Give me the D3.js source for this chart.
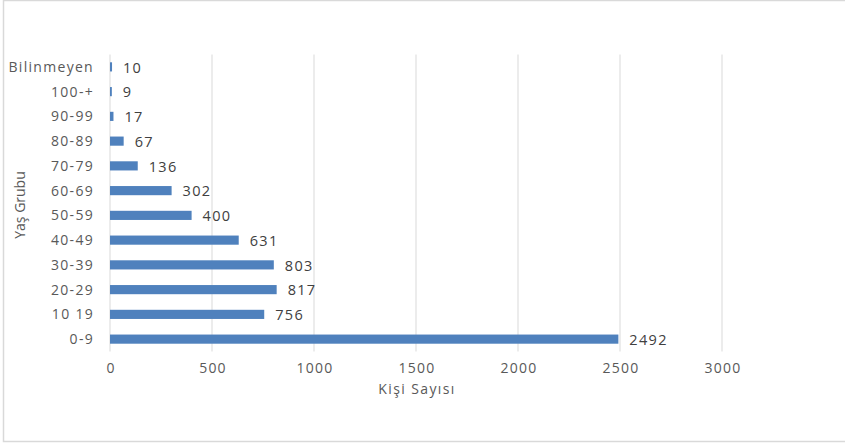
<!DOCTYPE html>
<html>
<head>
<meta charset="utf-8">
<script src="https://cdn.jsdelivr.net/npm/d3@7"></script>
<style>
  body { margin: 0; background: #fff; }
  svg text { font-family: "Open Sans", "Noto Sans", sans-serif; fill: #595959; }
</style>
</head>
<body>
<svg width="845" height="444"></svg>
<script>
var categories = ["Bilinmeyen", "100-+", "90-99", "80-89", "70-79", "60-69", "50-59", "40-49", "30-39", "20-29", "10 19", "0-9"];
var values = [10, 9, 17, 67, 136, 302, 400, 631, 803, 817, 756, 2492];
var ticks = [0, 500, 1000, 1500, 2000, 2500, 3000];

var svg = d3.select("svg");

// chart frame
svg.append("path")
    .attr("d", "M 845 0.5 H 3.5 V 441.5 H 845")
    .attr("fill", "none")
    .attr("stroke", "#d9d9d9")
    .attr("stroke-width", 1.5);

var x = d3.scaleLinear().domain([0, 3000]).range([110, 722]);
var y = d3.scaleBand().domain(categories).range([54.5, 351.5]).paddingInner(0.63).paddingOuter(0.315);

// gridlines
svg.append("g").selectAll("line")
    .data(ticks)
    .enter().append("line")
    .attr("x1", function (d) { return x(d); })
    .attr("x2", function (d) { return x(d); })
    .attr("y1", 54.5)
    .attr("y2", 351.5)
    .attr("stroke", "#d9d9d9")
    .attr("stroke-width", 1);

// x tick labels
svg.append("g").selectAll("text")
    .data(ticks)
    .enter().append("text")
    .attr("x", function (d) { return x(d) + 1; })
    .attr("y", 373)
    .attr("text-anchor", "middle")
    .style("font-size", "14px")
    .style("letter-spacing", "1.2px")
    .text(function (d) { return d; });

// category labels
svg.append("g").selectAll("text")
    .data(categories)
    .enter().append("text")
    .attr("x", 94)
    .attr("y", function (d) { return y(d) + y.bandwidth() / 2; })
    .attr("dy", "0.35em")
    .attr("text-anchor", "end")
    .style("font-size", "14px")
    .style("letter-spacing", "1.3px")
    .text(function (d) { return d; });

// bars
svg.append("g").selectAll("rect")
    .data(values)
    .enter().append("rect")
    .attr("x", x(0))
    .attr("y", function (d, i) { return y(categories[i]); })
    .attr("width", function (d) { return x(d) - x(0); })
    .attr("height", y.bandwidth())
    .attr("fill", "#4f81bd");

// value labels
svg.append("g").selectAll("text")
    .data(values)
    .enter().append("text")
    .attr("x", function (d) { return x(d) + 11; })
    .attr("y", function (d, i) { return y(categories[i]) + y.bandwidth() / 2; })
    .attr("dy", "0.4em")
    .style("font-size", "14.5px")
    .style("letter-spacing", "1.3px")
    .style("fill", "#404040")
    .text(function (d) { return d; });

// axis titles
svg.append("text")
    .attr("x", 417)
    .attr("y", 394)
    .attr("text-anchor", "middle")
    .style("font-size", "14px")
    .style("letter-spacing", "1.4px")
    .text("Kişi Sayısı");

svg.append("text")
    .attr("transform", "translate(25,205) rotate(-90)")
    .attr("text-anchor", "middle")
    .style("font-size", "14px")
    .text("Yaş Grubu");
</script>
</body>
</html>
